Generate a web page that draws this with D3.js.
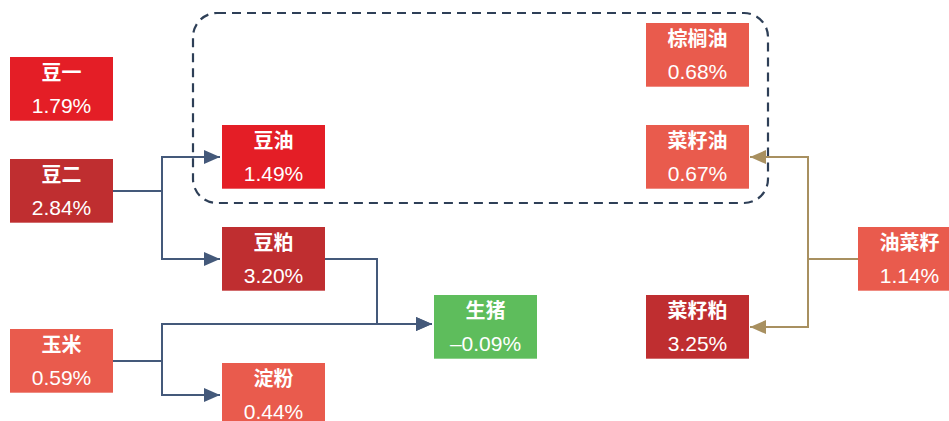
<!DOCTYPE html>
<html>
<head>
<meta charset="utf-8">
<script src="https://cdn.jsdelivr.net/npm/d3@7"></script>
<style>
  html, body { margin: 0; padding: 0; background: #fff; overflow: hidden; }
  svg { display: block; }
</style>
</head>
<body>
<script>
// commodities and their daily change (%)
const names = ["豆一", "豆二", "豆油", "豆粕", "玉米", "淀粉", "生猪", "棕榈油", "菜籽油", "菜籽粕", "油菜籽"];
const changes = [1.79, 2.84, 1.49, 3.20, 0.59, 0.44, -0.09, 0.68, 0.67, 3.25, 1.14];
// colour tier of each box: 0 bright red, 1 dark red, 2 light red, 3 green
const tiers = [0, 1, 0, 1, 2, 2, 3, 2, 2, 1, 2];
// grid slot of each box (column, half-row)
const cols = [0, 0, 1, 1, 0, 1, 2, 3, 3, 3, 4];
const rows = [1, 4, 3, 6, 9, 10, 8, 0, 3, 8, 6];
// supply chain links [source, target]
const links = [
  ["豆二", "豆油"], ["豆二", "豆粕"],
  ["豆粕", "生猪"], ["玉米", "生猪"], ["玉米", "淀粉"],
  ["油菜籽", "菜籽油"], ["油菜籽", "菜籽粕"]
];
const oilGroup = ["豆油", "棕榈油", "菜籽油"];

const width = 949, height = 421;
const boxW = 103, boxH = 64;
const tierColor = ["#e41e26", "#bf2e30", "#e95b4d", "#5ebd5c"];

const x = d3.scaleLinear().domain([0, 4]).range([10, 858]);
const y = d3.scaleLinear().domain([0, 10]).range([55, 395]);

const nodes = names.map((n, i) => ({
  name: n, value: changes[i], tier: tiers[i],
  x: x(cols[i]), cy: y(rows[i])
}));
const byName = new Map(nodes.map(d => [d.name, d]));

const svg = d3.select("body").append("svg")
  .attr("width", width).attr("height", height);

const defs = svg.append("defs");
[["blue", "#44597a"], ["gold", "#a89060"]].forEach(([id, c]) => {
  defs.append("marker")
    .attr("id", "arrow-" + id)
    .attr("viewBox", "0 0 16 14")
    .attr("refX", 16).attr("refY", 7)
    .attr("markerWidth", 16).attr("markerHeight", 14)
    .attr("markerUnits", "userSpaceOnUse")
    .attr("orient", "auto")
    .append("path")
    .attr("d", "M0,0L16,7L0,14Z")
    .attr("fill", c);
});

// dashed frame round the vegetable oils
const g = oilGroup.map(n => byName.get(n));
const fx0 = d3.min(g, d => d.x) - 29, fx1 = d3.max(g, d => d.x) + boxW + 19;
const fy0 = d3.min(g, d => d.cy) - boxH / 2 - 10, fy1 = d3.max(g, d => d.cy) + boxH / 2 + 14;
svg.append("rect")
  .attr("x", fx0).attr("y", fy0)
  .attr("width", fx1 - fx0).attr("height", fy1 - fy0)
  .attr("rx", 24)
  .attr("fill", "none")
  .attr("stroke", "#2e3f57")
  .attr("stroke-width", 2.2)
  .attr("stroke-dasharray", "9,6");

// elbow connectors
svg.selectAll("path.link")
  .data(links.map(([s, t]) => ({ s: byName.get(s), t: byName.get(t) })))
  .join("path")
  .attr("class", "link")
  .attr("fill", "none")
  .attr("stroke", d => d.s.x > d.t.x ? "#a89060" : "#44597a")
  .attr("stroke-width", 2)
  .attr("marker-end", d => d.s.x > d.t.x ? "url(#arrow-gold)" : "url(#arrow-blue)")
  .attr("d", d => {
    const back = d.s.x > d.t.x;
    const x0 = back ? d.s.x : d.s.x + boxW;
    const x1 = back ? d.t.x + boxW + 1 : d.t.x - 2;
    const mx = back ? x0 - 50 : x0 + (d.s.name === "豆粕" ? 52 : 49);
    const ty = d.t.name === "生猪" ? d.t.cy - 3 : d.t.cy;
    return `M${x0},${d.s.cy}H${mx}V${ty}H${x1}`;
  });

// boxes
const box = svg.selectAll("g.node")
  .data(nodes)
  .join("g")
  .attr("class", "node")
  .attr("transform", d => `translate(${d.x},${d.cy - boxH / 2})`);

box.append("rect")
  .attr("width", boxW).attr("height", boxH)
  .attr("fill", d => tierColor[d.tier]);

box.append("line")
  .attr("x1", 0).attr("x2", boxW)
  .attr("y1", boxH - 0.5).attr("y2", boxH - 0.5)
  .attr("stroke", "#fff").attr("stroke-opacity", 0.3);

box.append("text")
  .attr("x", boxW / 2).attr("y", 16)
  .attr("dy", "0.36em")
  .attr("text-anchor", "middle")
  .attr("fill", "#fff")
  .attr("font-family", "'Noto Sans CJK SC', sans-serif")
  .attr("font-weight", "bold")
  .attr("font-size", 20)
  .text(d => d.name);

box.append("text")
  .attr("x", boxW / 2).attr("y", 48)
  .attr("dy", "0.36em")
  .attr("text-anchor", "middle")
  .attr("fill", "#fff")
  .attr("font-family", "'Liberation Sans', Arial, sans-serif")
  .attr("font-size", 21)
  .text(d => (d.value < 0 ? "–" : "") + Math.abs(d.value).toFixed(2) + "%");
</script>
</body>
</html>
